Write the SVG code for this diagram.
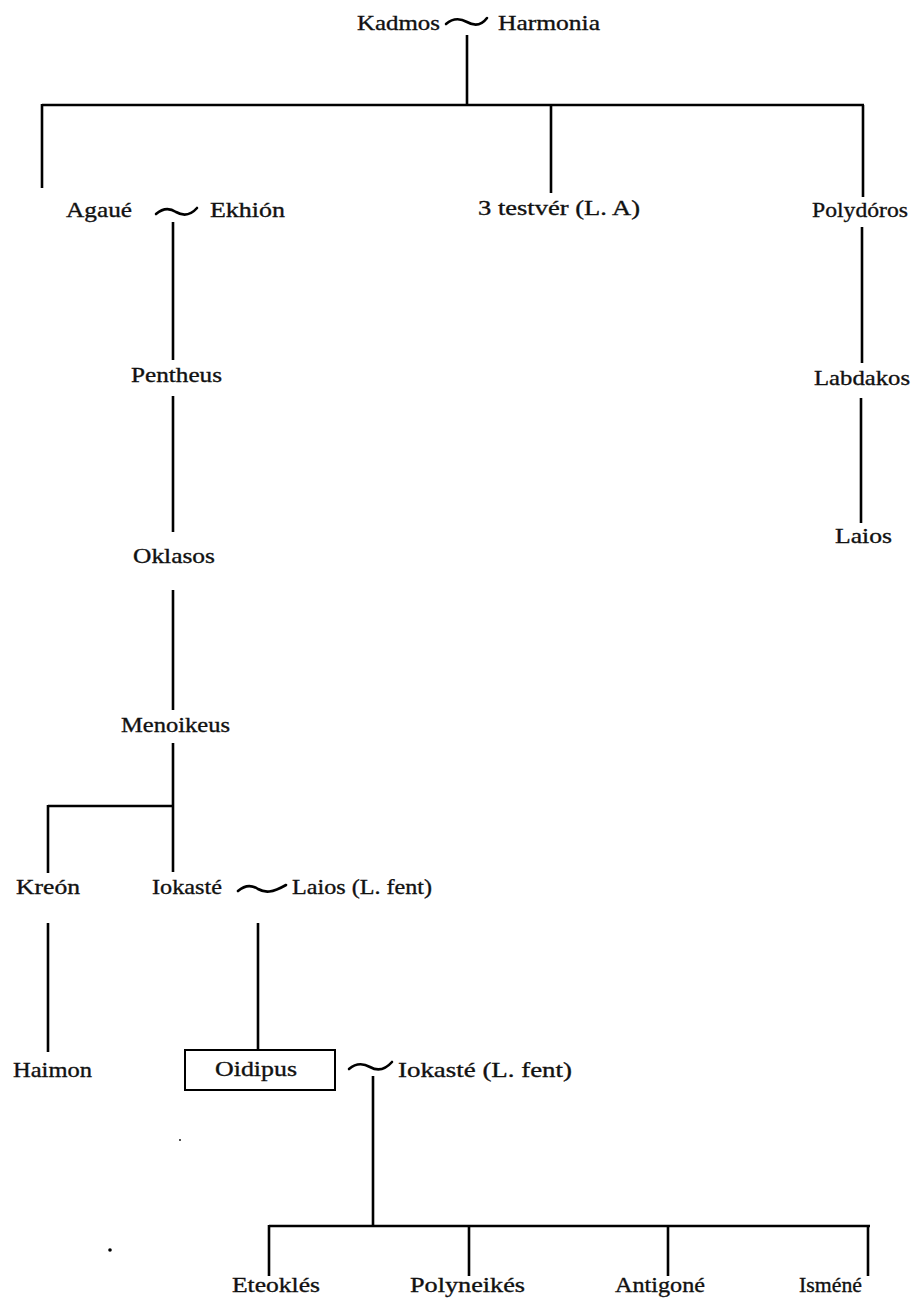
<svg xmlns="http://www.w3.org/2000/svg" width="919" height="1304" viewBox="0 0 919 1304">
  <style>
    .t { font-family: "Liberation Serif", "DejaVu Serif", serif; font-size: 22px; fill: #111; stroke: #111; stroke-width: 0.35; }
    .ln { stroke: #000; stroke-width: 2.6; fill: none; stroke-linecap: butt; }
    .tl { stroke: #000; stroke-width: 2.6; fill: none; stroke-linecap: round; }
    .box { stroke: #000; stroke-width: 2; fill: none; }
  </style>
  <rect width="919" height="1304" fill="#fff"/>

  <!-- marriage tildes and descent lines -->
  <g id="connectors">
    <!-- Kadmos ~ Harmonia -->
    <path class="tl" d="M446,24 C453,18 460,18 467,22 C474,26 481,26 487,18"/>
    <path class="ln" d="M467,35 V105 M42,105 H864 M42,104 V188 M551,105 V193 M863,105 V197"/>
    <!-- Agaué ~ Ekhión line -->
    <path class="tl" d="M156,214 C163,208 170,208 176,212 C183,216 190,216 197,208"/>
    <path class="ln" d="M173,222 V360 M173,396 V532 M173,590 V710 M173,743 V872 M48,806 H173 M48,805 V873"/>
    <!-- Polydóros line -->
    <path class="ln" d="M862,227 V363 M861,398 V523"/>
    <!-- Iokasté ~ Laios -->
    <path class="tl" d="M238,891 C245,885 252,885 258,889 C265,893 272,893 286,885"/>
    <path class="ln" d="M258,923 V1050 M48,923 V1052"/>
    <!-- Oidipus ~ Iokasté -->
    <path class="tl" d="M349,1069 C356,1063 363,1063 370,1067 C377,1071 384,1071 392,1062"/>
    <path class="ln" d="M373,1076 V1226 M269,1226 H870 M269,1225 V1276 M469,1226 V1276 M668,1226 V1276 M868,1225 V1276"/>
  </g>

  <g id="kadmos"><text class="t" x="357" y="30" textLength="83" lengthAdjust="spacingAndGlyphs">Kadmos</text></g>
  <g id="harmonia"><text class="t" x="498" y="30" textLength="102" lengthAdjust="spacingAndGlyphs">Harmonia</text></g>

  <g id="agaue"><text class="t" x="66" y="217" textLength="66" lengthAdjust="spacingAndGlyphs">Agaué</text></g>
  <g id="ekhion"><text class="t" x="210" y="217" textLength="75" lengthAdjust="spacingAndGlyphs">Ekhión</text></g>
  <g id="testver"><text class="t" x="478" y="215" textLength="162" lengthAdjust="spacingAndGlyphs">3 testvér (L. A)</text></g>
  <g id="polydoros"><text class="t" x="812" y="217" textLength="96" lengthAdjust="spacingAndGlyphs">Polydóros</text></g>

  <g id="pentheus"><text class="t" x="131" y="382" textLength="91" lengthAdjust="spacingAndGlyphs">Pentheus</text></g>
  <g id="labdakos"><text class="t" x="814" y="385" textLength="96" lengthAdjust="spacingAndGlyphs">Labdakos</text></g>
  <g id="laios"><text class="t" x="835" y="543" textLength="57" lengthAdjust="spacingAndGlyphs">Laios</text></g>
  <g id="oklasos"><text class="t" x="133" y="563" textLength="82" lengthAdjust="spacingAndGlyphs">Oklasos</text></g>
  <g id="menoikeus"><text class="t" x="121" y="732" textLength="109" lengthAdjust="spacingAndGlyphs">Menoikeus</text></g>

  <g id="kreon"><text class="t" x="16" y="894" textLength="64" lengthAdjust="spacingAndGlyphs">Kreón</text></g>
  <g id="iokaste"><text class="t" x="152" y="894" textLength="70" lengthAdjust="spacingAndGlyphs">Iokasté</text></g>
  <g id="laios-fent"><text class="t" x="292" y="894" textLength="140" lengthAdjust="spacingAndGlyphs">Laios (L. fent)</text></g>

  <g id="haimon"><text class="t" x="13" y="1077" textLength="79" lengthAdjust="spacingAndGlyphs">Haimon</text></g>
  <g id="oidipus">
    <rect class="box" x="185" y="1050" width="150" height="40"/>
    <text class="t" x="215" y="1076" textLength="82" lengthAdjust="spacingAndGlyphs">Oidipus</text>
  </g>
  <g id="iokaste-fent"><text class="t" x="398" y="1077" textLength="174" lengthAdjust="spacingAndGlyphs">Iokasté (L. fent)</text></g>

  <g id="eteokles"><text class="t" x="232" y="1292" textLength="88" lengthAdjust="spacingAndGlyphs">Eteoklés</text></g>
  <g id="polyneikes"><text class="t" x="410" y="1292" textLength="115" lengthAdjust="spacingAndGlyphs">Polyneikés</text></g>
  <g id="antigone"><text class="t" x="615" y="1292" textLength="90" lengthAdjust="spacingAndGlyphs">Antigoné</text></g>
  <g id="ismene"><text class="t" x="799" y="1292" textLength="63" lengthAdjust="spacingAndGlyphs">Isméné</text></g>

  <!-- specks in the printed page -->
  <circle cx="110" cy="1250" r="1.8" fill="#000"/>
  <circle cx="180" cy="1140" r="0.9" fill="#000"/>
</svg>
